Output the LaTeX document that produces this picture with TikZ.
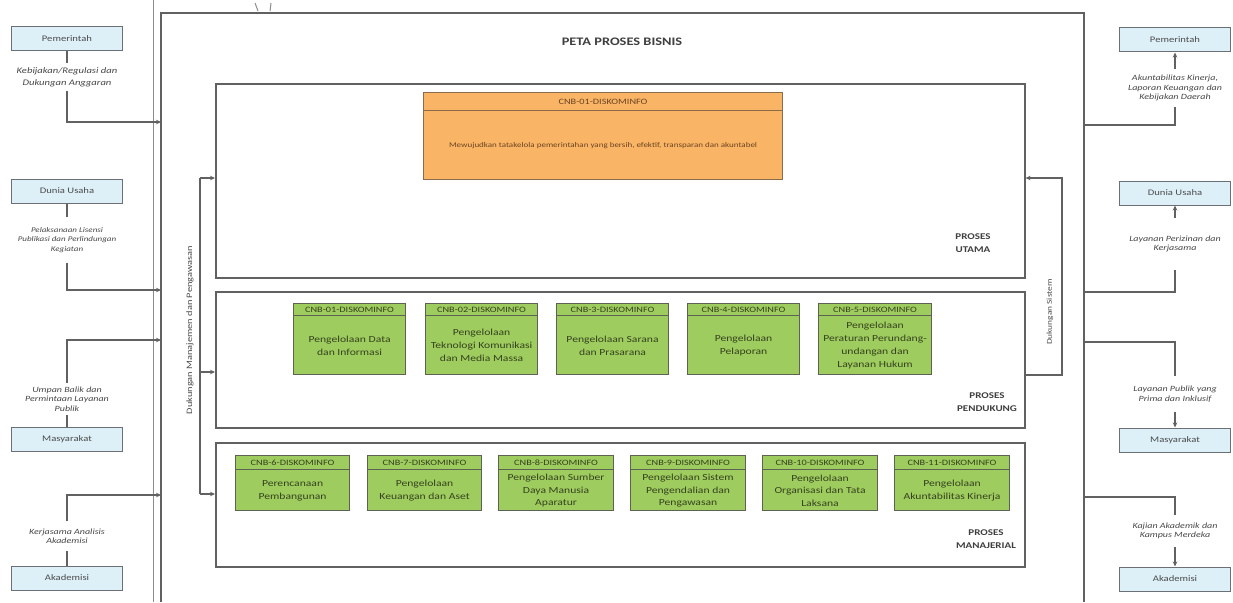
\documentclass[tikz,border=0pt]{standalone}
\usepackage{fontspec}
\setmainfont{Carlito}[FakeStretch=1.25]
\usetikzlibrary{arrows.meta,calc}
\definecolor{entblue}{HTML}{DDF0F8}
\definecolor{entline}{HTML}{6A7075}
\definecolor{grn}{HTML}{9FCC5E}
\definecolor{grnline}{HTML}{5C6352}
\definecolor{org}{HTML}{F9B465}
\definecolor{orgline}{HTML}{8C6B48}
\definecolor{ink}{HTML}{3F3F3F}
\definecolor{grntext}{HTML}{34421F}
\definecolor{orgtext}{HTML}{6B4422}
\newcommand{\cnb}[8]{%
  \node[cbox, minimum width=#4, minimum height=#5, anchor=north west] (#1) at (#2,#3) {};
  \node[chead, minimum width=#4, minimum height=#6, anchor=north] (#1h) at (#1.north) {#7};
  \node[cbody] (#1b) at ($(#1h.south)!0.5!(#1.south)$) {#8};}
\begin{document}
\begin{tikzpicture}[x=1pt,y=-1pt,
  frame/.style={draw=black!62, line width=2pt},
  thinframe/.style={draw=black!45, line width=0.7pt},
  proc/.style={draw=black!62, line width=1.6pt},
  ent/.style={draw=entline, fill=entblue, line width=1pt, minimum width=111pt, minimum height=24pt,
    inner sep=0pt, font=\fontsize{8.5}{10}\selectfont, text=black!70},
  lbl/.style={font=\fontsize{8}{9.5}\selectfont\itshape, align=center, text=black!72, inner sep=1pt},
  conn/.style={draw=black!62, line width=1.2pt},
  arr/.style={conn, -{Stealth[length=5pt,width=4.5pt]}},
  cbox/.style={draw=grnline, fill=grn, line width=1.1pt, inner sep=0pt},
  chead/.style={draw=grnline, fill=grn, line width=1.1pt, inner sep=0pt,
    font=\fontsize{8.2}{9}\selectfont, text=grntext},
  cbody/.style={align=center, inner sep=0pt, font=\fontsize{9.3}{12.8}\selectfont, text=grntext},
  plbl/.style={align=center, font=\fontsize{8.8}{13}\selectfont\bfseries, text=ink},
  vlbl/.style={rotate=90, font=\fontsize{8.3}{10}\selectfont, text=black!70, inner sep=1pt},
  titlestyle/.style={font=\fontsize{11.5}{13}\selectfont\bfseries, text=ink}]
\useasboundingbox (0,0) rectangle (1233,602);
\fill[white] (0,0) rectangle (1233,602);

% outer frame
\draw[thinframe] (153,0) -- (153,602);
\draw[frame] (161,602) -- (161,13) -- (1084,13) -- (1084,602);
\draw[thinframe, line width=1pt] (255,3) -- (258,11);
\draw[thinframe, line width=1pt] (271,3) -- (270,11);

\node[titlestyle] (title) at (622,42) {PETA PROSES BISNIS};

% process areas
\node[proc, minimum width=809pt, minimum height=194pt, anchor=north west] (utama) at (215,83) {};
\node[proc, minimum width=809pt, minimum height=136pt, anchor=north west] (pendukung) at (215,291) {};
\node[proc, minimum width=809pt, minimum height=124pt, anchor=north west] (manajerial) at (215,442) {};
\node[plbl] (lutama) at (973,243) {PROSES\\UTAMA};
\node[plbl] (lpendukung) at (987,402) {PROSES\\PENDUKUNG};
\node[plbl] (lmanajerial) at (986,539) {PROSES\\MANAJERIAL};

% main process (orange)
\begin{scope}[cbox/.append style={draw=orgline, fill=org},
  chead/.append style={draw=orgline, fill=org, text=orgtext},
  cbody/.append style={font=\fontsize{7.2}{9}\selectfont, text=orgtext}]
\cnb{u1}{423}{92}{359pt}{87pt}{18pt}{CNB-01-DISKOMINFO}{Mewujudkan tatakelola pemerintahan yang bersih, efektif, transparan dan akuntabel}
\end{scope}

% support processes
\cnb{p1}{293}{303}{112pt}{71pt}{12pt}{CNB-01-DISKOMINFO}{Pengelolaan Data\\dan Informasi}
\cnb{p2}{425}{303}{112pt}{71pt}{12pt}{CNB-02-DISKOMINFO}{Pengelolaan\\Teknologi Komunikasi\\dan Media Massa}
\cnb{p3}{556}{303}{112pt}{71pt}{12pt}{CNB-3-DISKOMINFO}{Pengelolaan Sarana\\dan Prasarana}
\cnb{p4}{687}{303}{112pt}{71pt}{12pt}{CNB-4-DISKOMINFO}{Pengelolaan\\Pelaporan}
\cnb{p5}{818}{303}{113pt}{71pt}{12pt}{CNB-5-DISKOMINFO}{Pengelolaan\\Peraturan Perundang-\\undangan dan\\Layanan Hukum}

% managerial processes
\cnb{m1}{235}{455}{114pt}{55pt}{14pt}{CNB-6-DISKOMINFO}{Perencanaan\\Pembangunan}
\cnb{m2}{367}{455}{114pt}{55pt}{14pt}{CNB-7-DISKOMINFO}{Pengelolaan\\Keuangan dan Aset}
\cnb{m3}{498}{455}{115pt}{55pt}{14pt}{CNB-8-DISKOMINFO}{Pengelolaan Sumber\\Daya Manusia\\Aparatur}
\cnb{m4}{630}{455}{115pt}{55pt}{14pt}{CNB-9-DISKOMINFO}{Pengelolaan Sistem\\Pengendalian dan\\Pengawasan}
\cnb{m5}{762}{455}{115pt}{55pt}{14pt}{CNB-10-DISKOMINFO}{Pengelolaan\\Organisasi dan Tata\\Laksana}
\cnb{m6}{894}{455}{115pt}{55pt}{14pt}{CNB-11-DISKOMINFO}{Pengelolaan\\Akuntabilitas Kinerja}

% left internal feedback
\coordinate (lc1) at (200,178);
\coordinate (lc2) at (200,372);
\coordinate (lc3) at (200,494);
\draw[conn] (lc1) -- (lc3);
\draw[arr] (lc1) -- (lc1 -| utama.west);
\draw[arr] (lc2) -- (lc2 -| pendukung.west);
\draw[arr] (lc3) -- (lc3 -| manajerial.west);
\node[vlbl] (vman) at (190,330) {Dukungan Manajemen dan Pengawasan};

% right internal feedback
\coordinate (rc1) at (1062,375);
\coordinate (rc2) at (1062,178);
\draw[arr] (rc1 -| pendukung.east) -- (rc1) -- (rc2) -- (rc2 -| utama.east);
\node[vlbl, font=\fontsize{7.5}{9}\selectfont] (vsis) at (1050,312) {Dukungan Sistem};

% frame coordinates
\coordinate (fl1) at (161,122);
\coordinate (fl2) at (161,290);
\coordinate (fl3) at (161,340);
\coordinate (fl4) at (161,495);
\coordinate (fr1) at (1084,125);
\coordinate (fr2) at (1084,292);
\coordinate (fr3) at (1084,342);
\coordinate (fr4) at (1084,497);

% left stakeholders
\node[ent] (lpem) at (67,39) {Pemerintah};
\node[lbl, font=\fontsize{8.5}{12}\selectfont\itshape, outer ysep=3pt] (llpem) at (67,77) {Kebijakan/Regulasi dan\\Dukungan Anggaran};
\draw[conn] (lpem) -- (llpem);
\draw[arr] (llpem) |- (fl1);

\node[ent] (ldu) at (67,191) {Dunia Usaha};
\node[lbl, font=\fontsize{7.2}{9.5}\selectfont\itshape, outer ysep=9pt] (lldu) at (67,240) {Pelaksanaan Lisensi\\Publikasi dan Perlindungan\\Kegiatan};
\draw[conn] (ldu) -- (lldu);
\draw[arr] (lldu) |- (fl2);

\node[ent] (lmas) at (67,439) {Masyarakat};
\node[lbl, outer ysep=3pt] (llmas) at (67,399) {Umpan Balik dan\\Permintaan Layanan\\Publik};
\draw[conn] (lmas) -- (llmas);
\draw[arr] (llmas) |- (fl3);

\node[ent] (laka) at (67,578) {Akademisi};
\node[lbl, outer ysep=6pt] (llaka) at (67,536) {Kerjasama Analisis\\Akademisi};
\draw[conn] (laka) -- (llaka);
\draw[arr] (llaka) |- (fl4);

% right stakeholders
\node[ent] (rpem) at (1175,40) {Pemerintah};
\node[lbl, outer ysep=5pt] (rlpem) at (1175,88) {Akuntabilitas Kinerja,\\Laporan Keuangan dan\\Kebijakan Daerah};
\draw[conn] (fr1) -| (rlpem);
\draw[arr] (rlpem) -- (rpem);

\node[ent] (rdu) at (1175,193) {Dunia Usaha};
\node[lbl, outer ysep=17pt] (rldu) at (1175,244) {Layanan Perizinan dan\\Kerjasama};
\draw[conn] (fr2) -| (rldu);
\draw[arr] (rldu) -- (rdu);

\node[ent] (rmas) at (1175,440) {Masyarakat};
\node[lbl, outer ysep=9pt] (rlmas) at (1175,394) {Layanan Publik yang\\Prima dan Inklusif};
\draw[conn] (fr3) -| (rlmas);
\draw[arr] (rlmas) -- (rmas);

\node[ent] (raka) at (1175,579) {Akademisi};
\node[lbl, outer ysep=7pt] (rlaka) at (1175,531) {Kajian Akademik dan\\Kampus Merdeka};
\draw[conn] (fr4) -| (rlaka);
\draw[arr] (rlaka) -- (raka);
\end{tikzpicture}
\end{document}
